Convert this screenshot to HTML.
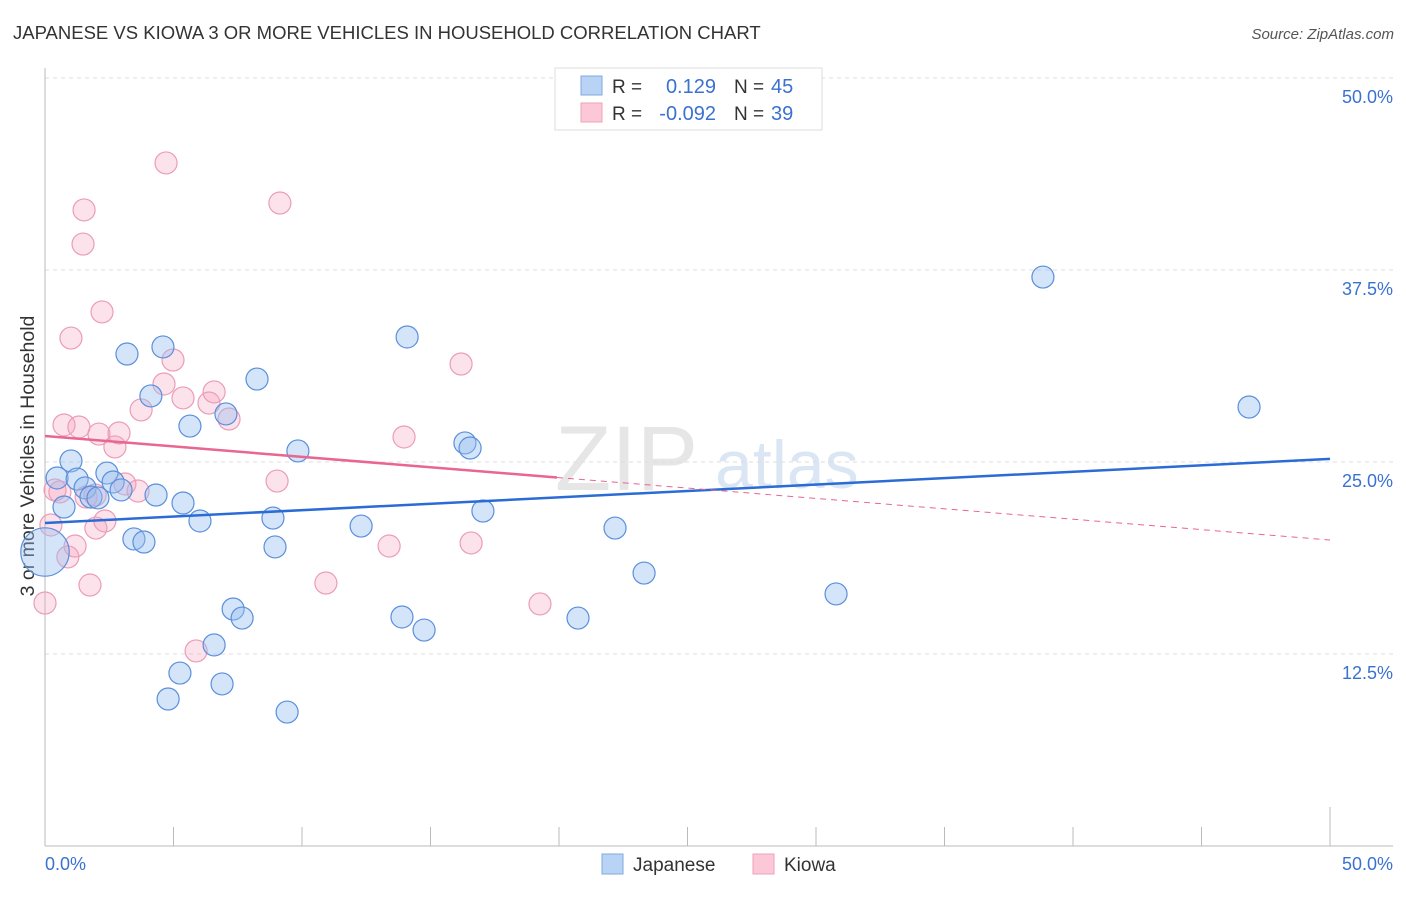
<!DOCTYPE html>
<html><head><meta charset="utf-8"><style>
body{margin:0;background:#fff;font-family:"Liberation Sans",sans-serif;}
svg text{font-family:"Liberation Sans",sans-serif;}
</style></head><body>
<svg id="chart" width="1406" height="892" xmlns="http://www.w3.org/2000/svg">
<text x="13" y="39" font-size="18.5" fill="#333">JAPANESE VS KIOWA 3 OR MORE VEHICLES IN HOUSEHOLD CORRELATION CHART</text>
<text x="1394" y="39" font-size="15" font-style="italic" fill="#555" text-anchor="end">Source: ZipAtlas.com</text>
<text x="555" y="490" font-size="92" fill="#e6e6e6" font-family="Liberation Serif">ZIP</text>
<text x="715" y="488" font-size="68" fill="#dbe6f5">atlas</text>
<g id="grid"></g>
<g id="axes"></g>
<text transform="translate(34,456) rotate(-90)" font-size="19.5" fill="#333" text-anchor="middle">3 or more Vehicles in Household</text>
<g id="marks"></g>
<g>
<rect x="555" y="68" width="267" height="62" fill="#fff" stroke="#ddd"/>
<rect x="581" y="76" width="21" height="19" fill="#b9d3f5" stroke="#7fa8e0"/>
<rect x="581" y="103" width="21" height="19" fill="#fcc8d8" stroke="#eea0ba"/>
<text x="612" y="93" font-size="19" fill="#333">R =</text><text x="716" y="93" font-size="20" fill="#3a72d0" text-anchor="end">0.129</text>
<text x="734" y="93" font-size="19" fill="#333">N =</text><text x="771" y="93" font-size="20" fill="#3a72d0">45</text>
<text x="612" y="120" font-size="19" fill="#333">R =</text><text x="716" y="120" font-size="20" fill="#3a72d0" text-anchor="end">-0.092</text>
<text x="734" y="120" font-size="19" fill="#333">N =</text><text x="771" y="120" font-size="20" fill="#3a72d0">39</text>
</g>
<g>
<rect x="602" y="854" width="21" height="20" fill="#b9d3f5" stroke="#7fa8e0"/>
<text x="633" y="871" font-size="19" fill="#333">Japanese</text>
<rect x="753" y="854" width="21" height="20" fill="#fcc8d8" stroke="#eea0ba"/>
<text x="784" y="871" font-size="19" fill="#333">Kiowa</text>
</g>
</svg>
<script>
const japaneseX=[0.47,1.01,0.74,1.25,1.56,1.79,2.06,2.41,2.65,2.96,3.19,3.46,3.85,4.12,4.32,4.59,5.25,4.79,5.37,5.64,6.03,6.58,6.89,7.04,7.32,7.67,8.25,8.87,8.95,9.42,9.84,12.30,13.89,14.09,14.75,16.34,16.54,17.04,20.74,22.18,23.31,30.78,38.83,46.85,0];
const japaneseY=[23.96,25.07,22.07,23.89,23.31,22.72,22.66,24.28,23.70,23.18,32.03,19.99,19.79,29.30,22.85,32.49,11.26,9.57,22.33,27.34,21.16,13.09,10.55,28.13,15.43,14.84,30.40,21.35,19.47,8.72,25.72,20.83,14.91,33.14,14.06,26.24,25.91,21.81,14.84,20.70,17.77,16.41,37.04,28.58,19.14];
const japaneseSize=[1,1,1,1,1,1,1,1,1,1,1,1,1,1,1,1,1,1,1,1,1,1,1,1,1,1,1,1,1,1,1,1,1,1,1,1,1,1,1,1,1,1,1,1,2.2];
const kiowaX=[0,0.23,0.39,0.58,0.74,0.89,1.01,1.17,1.32,1.48,1.52,1.60,1.75,1.98,2.10,2.22,2.33,2.72,2.88,3.11,3.62,3.74,4.71,4.98,4.63,5.37,5.88,6.38,6.58,7.16,9.03,9.14,10.93,13.39,13.97,16.19,16.58,19.26,1.95];
const kiowaY=[15.82,20.90,23.18,23.05,27.41,18.82,33.07,19.53,27.28,39.19,41.41,22.72,16.99,20.70,26.82,34.77,21.16,25.98,26.89,23.57,23.11,28.39,44.47,31.64,30.08,29.17,12.70,28.84,29.56,27.80,23.76,41.86,17.12,19.53,26.63,31.38,19.73,15.76,22.85];
const yTicks=[12.5,25.0,37.5,50.0];
const xTickLabels=["0.0%","50.0%"];
const japaneseTrend=[21.03,25.2];
const kiowaTrend=[26.69,19.92];
const kiowaSolidEnd=19.92;

const NS="http://www.w3.org/2000/svg";
const X=v=>45+v*25.7, Y=v=>846-v*15.36;
function mk(tag,attrs,parent){const e=document.createElementNS(NS,tag);for(const k in attrs)e.setAttribute(k,attrs[k]);parent.appendChild(e);return e;}
const grid=document.getElementById('grid'),axes=document.getElementById('axes'),marks=document.getElementById('marks');
yTicks.forEach(t=>{
  const l=mk('line',{x1:45,x2:1393,y1:Y(t),y2:Y(t),stroke:'#ddd','stroke-dasharray':'4,4'},grid);
  
  
  const tx=mk('text',{x:1393,y:Y(t)+25,'font-size':18,fill:'#3a72d0','text-anchor':'end'},axes);
  tx.textContent=t.toFixed(1)+'%';
  
  
});
const yl=mk('line',{x1:45,x2:45,y1:68,y2:846,stroke:'#bbb'},axes);


const xl=mk('line',{x1:45,x2:1393,y1:846,y2:846,stroke:'#bbb'},axes);


for(let i=0;i<=10;i++){
  const v=i*5;
  const tk=mk('line',{x1:X(v),x2:X(v),y1:(i==10?807:827),y2:846,stroke:'#bbb'},axes);
  
  
}
const xt0=mk('text',{x:45,y:870,'font-size':18,fill:'#3a72d0'},axes);xt0.textContent=xTickLabels[0];


const xt1=mk('text',{x:1393,y:870,'font-size':18,fill:'#3a72d0','text-anchor':'end'},axes);xt1.textContent=xTickLabels[1];



kiowaX.forEach((x,i)=>{
  const c=mk('circle',{cx:X(x),cy:Y(kiowaY[i]),r:11,fill:'rgba(245,160,190,0.3)',stroke:'#eb9db6','stroke-width':1.2},marks);
  
  
});
japaneseX.forEach((x,i)=>{
  const c=mk('circle',{cx:X(x),cy:Y(japaneseY[i]),r:11*japaneseSize[i],fill:'rgba(150,190,240,0.4)',stroke:'#5a8fdc','stroke-width':1.2},marks);
  
  
});
const jl=mk('line',{x1:X(0),y1:Y(japaneseTrend[0]),x2:X(50),y2:Y(japaneseTrend[1]),stroke:'#2a6bd6','stroke-width':2.5},marks);


const kslope=(kiowaTrend[1]-kiowaTrend[0])/50;
const ks=mk('line',{x1:X(0),y1:Y(kiowaTrend[0]),x2:X(kiowaSolidEnd),y2:Y(kiowaTrend[0]+kslope*kiowaSolidEnd),stroke:'#e8668f','stroke-width':2.5},marks);


const kd=mk('line',{x1:X(kiowaSolidEnd),y1:Y(kiowaTrend[0]+kslope*kiowaSolidEnd),x2:X(50),y2:Y(kiowaTrend[1]),stroke:'#e8668f','stroke-width':1,'stroke-dasharray':'6,5'},marks);


</script>
</body></html>
